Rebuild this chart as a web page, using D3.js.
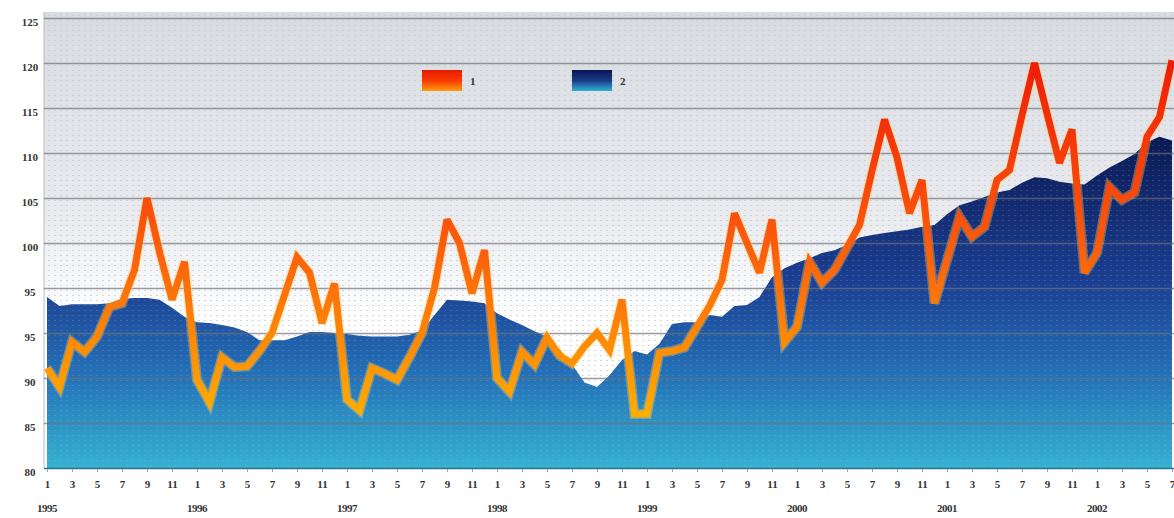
<!DOCTYPE html>
<html>
<head>
<meta charset="utf-8">
<script src="https://cdn.jsdelivr.net/npm/d3@7"></script>
<style>
html,body{margin:0;padding:0;background:#fff;}
svg{display:block;}
text{font-family:"Liberation Serif","DejaVu Serif",serif;font-weight:bold;fill:#333;}
</style>
</head>
<body>
<svg id="chart" width="1174" height="518"></svg>
<script>
// ---- data (monthly, Jan 1995 .. Jul 2002) ----
const years = [1995, 1996, 1997, 1998, 1999, 2000, 2001, 2002];
const monthTickLabels = ["1", "3", "5", "7", "9", "11"];
const yTickValues = [80, 85, 90, 95, 100, 105, 110, 115, 120, 125, 130];
const yTickLabels = ["80", "85", "90", "95", "95", "100", "105", "110", "115", "120", "125"];
const seriesNames = ["1", "2"];

const series1 = [
  91.1, 89.0, 94.0, 92.9, 94.6, 97.9, 98.3, 102.0, 110.0, 104.0, 98.7, 102.9,
  89.8, 87.3, 92.3, 91.2, 91.3, 93.0, 95.0, 99.2, 103.4, 101.7, 96.1, 100.5,
  87.6, 86.4, 91.1, 90.5, 89.8, 92.3, 95.0, 100.0, 107.6, 105.0, 99.4, 104.2,
  90.0, 88.5, 92.9, 91.5, 94.5, 92.5, 91.6, 93.5, 95.0, 93.1, 98.7, 86.0,
  86.0, 92.8, 93.0, 93.4, 95.7, 98.0, 100.9, 108.3, 105.0, 101.7, 107.6, 94.0,
  95.7, 102.9, 100.6, 102.0, 104.5, 107.0, 113.0, 118.7, 114.5, 108.3, 112.0, 98.3,
  103.1, 107.9, 105.7, 106.8, 112.0, 113.1, 119.2, 125.0, 119.4, 113.9, 117.6, 101.7,
  103.9, 111.2, 109.8, 110.6, 116.8, 119.0, 125.3
];
const series2 = [
  99.0, 98.0, 98.2, 98.2, 98.2, 98.3, 98.8, 98.9, 98.9, 98.7, 97.8, 96.8,
  96.2, 96.1, 95.9, 95.6, 95.1, 94.2, 94.2, 94.2, 94.6, 95.1, 95.1, 95.0,
  94.9, 94.7, 94.6, 94.6, 94.6, 94.8, 95.3, 97.0, 98.7, 98.6, 98.5, 98.3,
  97.2, 96.5, 95.9, 95.2, 94.6, 93.2, 91.5, 89.5, 89.0, 90.3, 92.0, 93.0,
  92.6, 93.8, 96.0, 96.2, 96.2, 97.0, 96.8, 98.0, 98.1, 99.0, 101.2, 102.2,
  102.8, 103.3, 103.9, 104.2, 104.8, 105.6, 105.9, 106.1, 106.3, 106.5, 106.8, 107.0,
  108.2, 109.2, 109.6, 110.1, 110.6, 110.9, 111.7, 112.3, 112.2, 111.8, 111.6, 111.5,
  112.5, 113.4, 114.1, 114.9, 116.2, 116.8, 116.4
];

(function () {
// ---- layout ----
const svg = d3.select("#chart");
const mLeft = 47, mRight = 1172, mTop = 18, mBottom = 468;
const plotTop = 12, plotLeft = 44, plotRight = 1174;

const x = d3.scaleLinear().domain([0, series1.length - 1]).range([mLeft, mRight]);
const y = d3.scaleLinear().domain([80, 130]).range([mBottom, mTop]);

const defs = svg.append("defs");

const bg = defs.append("linearGradient").attr("id", "bgGrad")
  .attr("gradientUnits", "userSpaceOnUse").attr("x1", 0).attr("x2", 0).attr("y1", plotTop).attr("y2", mBottom);
bg.append("stop").attr("offset", "0").attr("stop-color", "#d8dbe1");
bg.append("stop").attr("offset", "0.45").attr("stop-color", "#e9ebef");
bg.append("stop").attr("offset", "0.68").attr("stop-color", "#ffffff");
bg.append("stop").attr("offset", "1").attr("stop-color", "#ffffff");

const dots = defs.append("pattern").attr("id", "dots").attr("patternUnits", "userSpaceOnUse")
  .attr("width", 6).attr("height", 5);
dots.append("rect").attr("width", 2).attr("height", 1).attr("fill", "#c4c8d0").attr("opacity", 0.7);

const areaGrad = defs.append("linearGradient").attr("id", "areaGrad")
  .attr("gradientUnits", "userSpaceOnUse").attr("x1", 0).attr("x2", 0).attr("y1", 130).attr("y2", mBottom);
areaGrad.append("stop").attr("offset", "0").attr("stop-color", "#0a1850");
areaGrad.append("stop").attr("offset", "0.45").attr("stop-color", "#1c3f92");
areaGrad.append("stop").attr("offset", "0.72").attr("stop-color", "#2470b6");
areaGrad.append("stop").attr("offset", "1").attr("stop-color", "#36b2d2");

const lineGrad = defs.append("linearGradient").attr("id", "lineGrad")
  .attr("gradientUnits", "userSpaceOnUse").attr("x1", 0).attr("x2", 0).attr("y1", 60).attr("y2", 420);
lineGrad.append("stop").attr("offset", "0").attr("stop-color", "#ee1c08");
lineGrad.append("stop").attr("offset", "0.5").attr("stop-color", "#fb5a0c");
lineGrad.append("stop").attr("offset", "1").attr("stop-color", "#ffb000");

const leg1 = defs.append("linearGradient").attr("id", "leg1").attr("x1", 0).attr("x2", 0).attr("y1", 0).attr("y2", 1);
leg1.append("stop").attr("offset", "0").attr("stop-color", "#e81a00");
leg1.append("stop").attr("offset", "0.5").attr("stop-color", "#f83a00");
leg1.append("stop").attr("offset", "1").attr("stop-color", "#ff9a10");
const leg2 = defs.append("linearGradient").attr("id", "leg2").attr("x1", 0).attr("x2", 0).attr("y1", 0).attr("y2", 1);
leg2.append("stop").attr("offset", "0").attr("stop-color", "#0a1450");
leg2.append("stop").attr("offset", "0.5").attr("stop-color", "#1a3c88");
leg2.append("stop").attr("offset", "1").attr("stop-color", "#30b0d4");

// background
svg.append("rect").attr("x", plotLeft).attr("y", plotTop).attr("width", plotRight - plotLeft).attr("height", mBottom - plotTop)
  .attr("fill", "url(#bgGrad)");
svg.append("rect").attr("x", plotLeft).attr("y", plotTop).attr("width", plotRight - plotLeft).attr("height", mBottom - plotTop)
  .attr("fill", "url(#dots)");
svg.append("line").attr("x1", plotLeft).attr("x2", plotLeft).attr("y1", plotTop).attr("y2", mBottom)
  .attr("stroke", "#b8bcc4").attr("stroke-width", 1);

// area (series 2)
const area = d3.area().x((d, i) => x(i)).y0(y(80)).y1(d => y(d));
svg.append("path").datum(series2).attr("d", area).attr("fill", "url(#areaGrad)");
svg.append("path").datum(series2).attr("d", area).attr("fill", "url(#dots)").attr("opacity", 0.25);

// gridlines
const grid = svg.append("g");
grid.selectAll("line").data(yTickValues.slice(1)).join("line")
  .attr("x1", plotLeft).attr("x2", plotRight)
  .attr("y1", d => Math.round(y(d)) + 0.5).attr("y2", d => Math.round(y(d)) + 0.5)
  .attr("stroke", "#6d7078").attr("stroke-opacity", 0.7).attr("stroke-width", 1.3);

// bottom line
svg.append("line").attr("x1", plotLeft).attr("x2", plotRight).attr("y1", mBottom + 0.5).attr("y2", mBottom + 0.5)
  .attr("stroke", "#2a6f95").attr("stroke-width", 1.5);

// line (series 1)
const line = d3.line().x((d, i) => x(i)).y(d => y(d));
svg.append("path").datum(series1).attr("d", line)
  .attr("fill", "none").attr("stroke", "#ffd070").attr("stroke-opacity", 0.35)
  .attr("stroke-width", 10).attr("stroke-linejoin", "miter").attr("stroke-miterlimit", 3);
svg.append("path").datum(series1).attr("d", line)
  .attr("fill", "none").attr("stroke", "url(#lineGrad)")
  .attr("stroke-width", 7).attr("stroke-linejoin", "miter").attr("stroke-miterlimit", 3);

// y axis labels
const yAxis = d3.axisLeft(y).tickValues(yTickValues)
  .tickFormat(d => yTickLabels[yTickValues.indexOf(d)]).tickSize(0).tickPadding(0);
const yg = svg.append("g").attr("transform", "translate(30,4)").call(yAxis);
yg.select(".domain").remove();
yg.selectAll("text").attr("font-size", 11).attr("fill", "#333").attr("text-anchor", "middle")
  .attr("font-family", "Liberation Serif, serif").attr("font-weight", "bold");

// x axis: odd months
const monthIdx = [];
const monthTxt = [];
years.forEach((yr, k) => {
  monthTickLabels.forEach((m) => {
    const idx = k * 12 + (+m - 1);
    if (idx < series1.length) { monthIdx.push(idx); monthTxt.push(m); }
  });
});
const xAxis = d3.axisBottom(x).tickValues(monthIdx)
  .tickFormat(d => monthTxt[monthIdx.indexOf(d)]).tickSize(3).tickPadding(8);
const xg = svg.append("g").attr("transform", `translate(0,${mBottom + 1})`).call(xAxis);
xg.select(".domain").remove();
xg.selectAll(".tick line").attr("stroke", "#9aa").attr("stroke-width", 1);
xg.selectAll("text").attr("font-size", 11).attr("fill", "#333")
  .attr("font-family", "Liberation Serif, serif").attr("font-weight", "bold");

// years
svg.append("g").selectAll("text").data(years).join("text")
  .attr("x", (d, k) => x(k * 12)).attr("y", 512)
  .attr("text-anchor", "middle").attr("font-size", 11).attr("fill", "#333")
  .style("letter-spacing", "-0.5px")
  .text(d => d);

// legend
const legend = svg.append("g");
const legItems = [{name: seriesNames[0], fill: "url(#leg1)", x: 422}, {name: seriesNames[1], fill: "url(#leg2)", x: 572}];
legItems.forEach(it => {
  legend.append("rect").attr("x", it.x).attr("y", 70).attr("width", 40).attr("height", 21).attr("fill", it.fill);
  legend.append("text").attr("x", it.x + 48).attr("y", 85).attr("font-size", 11).attr("fill", "#333").text(it.name);
});
})();
</script>
</body>
</html>
